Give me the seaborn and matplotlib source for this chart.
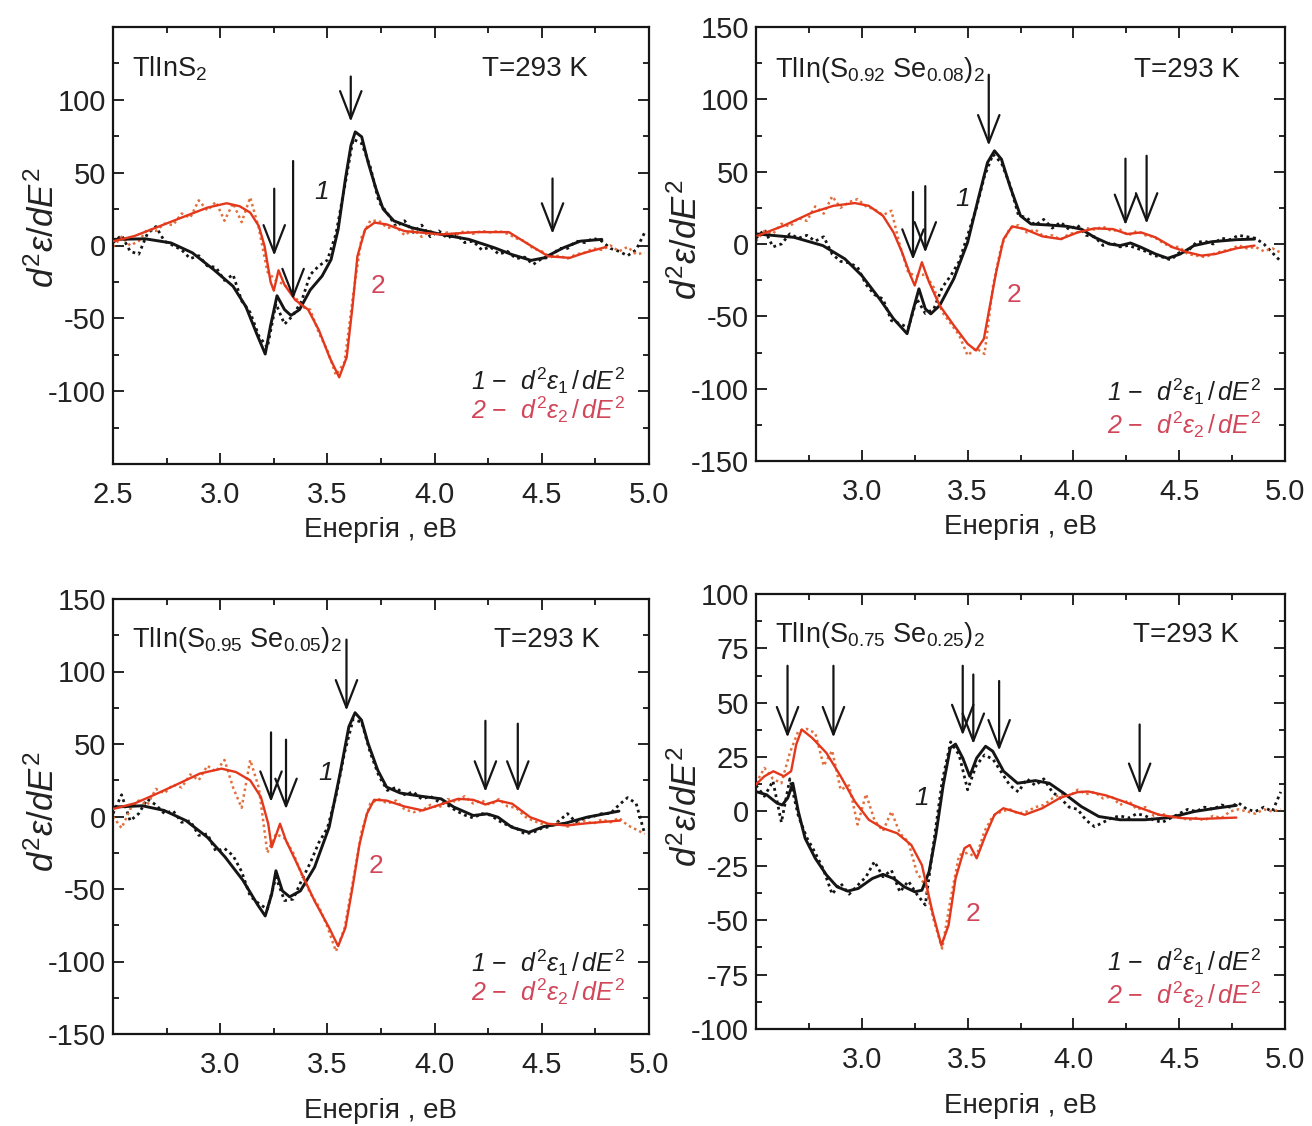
import numpy as np
import matplotlib
matplotlib.use("Agg")
import matplotlib.pyplot as plt
import seaborn as sns
from matplotlib.ticker import MultipleLocator, FuncFormatter

# ---------------- data ----------------
# experimental grid (eV)
E_exp = np.round(np.arange(2.50, 5.0001, 0.04), 2)

# Panel 1: TlInS2
p1_fit1_E = [2.503, 2.65, 2.77, 2.87, 2.97, 3.06, 3.12, 3.17, 3.21, 3.235, 3.265, 3.30, 3.33, 3.37, 3.42, 3.475,
             3.517, 3.55, 3.584, 3.61, 3.63, 3.66, 3.69, 3.727, 3.76, 3.81, 3.894, 4.03, 4.16, 4.28, 4.36, 4.45,
             4.51, 4.60, 4.68, 4.78]
p1_fit1_V = [4.2, 4.6, 1.8, -5, -16.6, -28, -42, -60.5, -74.5, -55, -34.5, -44, -48, -44, -30.5, -21,
             -9.7, 11, 45.7, 68.8, 78, 74.6, 57, 38.8, 25, 16.9, 12.2, 7.6, 4.2, -1.6, -6.2, -10.2,
             -8.5, -1.6, 3, 4.2]
p1_fit2_E = [2.503, 2.6, 2.72, 2.84, 2.94, 3.03, 3.09, 3.14, 3.18, 3.207, 3.235, 3.25, 3.272, 3.30, 3.35,
             3.41, 3.46, 3.51, 3.555, 3.59, 3.617, 3.64, 3.676, 3.72, 3.776, 3.86, 4.03, 4.195, 4.346, 4.447,
             4.53, 4.63, 4.70, 4.80]
p1_fit2_V = [3, 6.5, 13.4, 20.3, 26, 29, 27, 22.6, 13.4, -0.5, -25, -31, -17, -27, -37.4,
             -44, -58, -76.7, -90.5, -76.7, -42, -7.4, 11, 15.7, 14.5, 9.9, 7.6, 9.2, 9.2, 0,
             -7.4, -8.5, -5, -1]
p1_exp1 = [2, 7, -4, -6, 8, 13, 3, 0, -3, -9, -7, -14, -15, -24, -20, -38, -46, -62, -70, -40, -54, -48,
           -38, -20, -14, -10, 8, 40, 73, 70, 54, 30, 22, 13, 17, 9, 14, 6, 10, 5, 8, 2, 3, -3, -1, -6,
           -4, -9, -8, -13, -9, -8, -2, -2, 3, 2, 5, 3, -2, -4, -7, -3, 9]
p1_exp2 = [-1, 6, 0, 3, 11, 10, 15, 14, 22, 19, 31, 24, 30, 17, 29, 16, 33, 12, -18, -24, -27, -33, -42,
           -44, -60, -72, -89, -80, -34, 6, 17, 17, 12, 13, 7, 11, 6, 10, 7, 9, 7, 10, 8, 10, 9, 10, 8,
           5, 3, -2, -4, -8, -7, -9, -6, -5, -2, -3, 0, -4, -1, -6, -5]
p1_arrow_E = [3.252, 3.34, 3.609, 4.55]
p1_arrow_top = [39, 58, 116, 46]
p1_arrow_tip = [-7, -37, 85, 8]

# Panel 2: TlIn(S0.92Se0.08)2
p2_fit1_E = [2.507, 2.68, 2.816, 2.92, 3.0, 3.084, 3.15, 3.214, 3.24, 3.27, 3.30, 3.326, 3.368, 3.435,
             3.5, 3.55, 3.594, 3.627, 3.66, 3.70, 3.75, 3.80, 3.886, 3.97, 4.037, 4.10, 4.17, 4.22, 4.27,
             4.32, 4.388, 4.446, 4.505, 4.57, 4.655, 4.77, 4.856]
p2_fit1_V = [6.9, 4.6, -1.1, -10.3, -21.8, -37.9, -51.7, -62, -47, -31, -44.8, -48.3, -42.5, -24,
             1.1, 31, 56.3, 64.4, 58.6, 40, 19.5, 13.8, 13.1, 12.2, 10.3, 4.6, 0, -1.1, 0.7,
             -2.3, -6.9, -9.9, -6.9, -1.1, 1.6, 3, 3.4]
p2_fit2_E = [2.507, 2.63, 2.766, 2.866, 2.967, 3.033, 3.1, 3.15, 3.19, 3.23, 3.25, 3.284, 3.318, 3.368,
             3.435, 3.5, 3.54, 3.577, 3.6, 3.635, 3.67, 3.71, 3.77, 3.853, 3.94, 4.02, 4.1, 4.187,
             4.254, 4.32, 4.388, 4.47, 4.54, 4.605, 4.672, 4.77, 4.856]
p2_fit2_V = [5.7, 12.6, 21.8, 26.4, 28.3, 26.4, 19.5, 8, -5.7, -21.8, -28.7, -12.6, -26.4, -42.5,
             -56.3, -69, -73.6, -65.5, -47, -19.5, 3.4, 12.2, 10.3, 5.3, 3.4, 8, 10.8, 10.3,
             6.9, 8, 4.6, -2.3, -5.7, -8, -6.9, -3, -1.1]
p2_exp1 = [4, 10, -2, 0, 7, 4, 6, 2, 5, -7, -12, -13, -16, -28, -35, -38, -53, -55, -58, -38, -48, -45,
           -30, -22, -12, 6, 24, 47, 62, 56, 41, 20, 18, 13, 17, 11, 15, 10, 13, 6, 5, -1, 1, -2, -1, -3,
           -5, -8, -9, -11, -6, -5, 1, 2, 0, 4, 3, 6, 5, 4, 0, -6, -12]
p2_exp2 = [2, 9, 7, 14, 12, 18, 16, 26, 21, 33, 25, 29, 31, 26, 24, 20, 23, -1, -20, -22, -21, -30, -47,
           -55, -63, -77, -72, -76, -29, -1, 11, 13, 8, 10, 5, 6, 3, 7, 8, 11, 10, 12, 9, 10, 6, 9, 6,
           5, 1, -2, -2, -7, -8, -9, -7, -5, -4, -1, -3, -2, -5, -3, -6]
p2_arrow_E = [3.242, 3.30, 3.60, 4.246, 4.346]
p2_arrow_top = [36, 40, 117, 59, 61]
p2_arrow_tip = [-11, -6, 68, 13, 14]

# Panel 3: TlIn(S0.95Se0.05)2
p3_fit1_E = [2.503, 2.637, 2.738, 2.84, 2.94, 3.023, 3.106, 3.173, 3.21, 3.24, 3.26, 3.29, 3.324, 3.374,
             3.44, 3.508, 3.559, 3.60, 3.629, 3.659, 3.69, 3.735, 3.776, 3.84, 3.94, 4.03, 4.09, 4.18,
             4.245, 4.296, 4.36, 4.44, 4.51, 4.61, 4.71, 4.86]
p3_fit1_V = [6.5, 7.4, 4.2, -2.8, -14.3, -28, -44, -60.5, -68.6, -53.6, -37.4, -51.3, -55.4, -51.3,
             -35, -7.4, 29.6, 61.9, 71.6, 66.5, 50.3, 31.9, 20.3, 16.2, 13.9, 12.2, 6.5, 0.7,
             1.8, -0.5, -7.4, -10.9, -6.9, -4.6, -0.5, 3.7]
p3_fit2_E = [2.503, 2.604, 2.704, 2.805, 2.905, 3.006, 3.073, 3.14, 3.19, 3.224, 3.24, 3.257, 3.279,
             3.307, 3.374, 3.44, 3.508, 3.55, 3.584, 3.617, 3.65, 3.684, 3.718, 3.776, 3.86, 3.944,
             4.028, 4.11, 4.18, 4.237, 4.296, 4.362, 4.446, 4.53, 4.613, 4.714, 4.865]
p3_fit2_V = [5.3, 9.2, 15.7, 22.6, 29.6, 33, 30.7, 24.9, 13.4, -5, -21.2, -14.3, -5,
             -16.6, -37.4, -58.2, -76.7, -89.4, -76.7, -49, -19, 1.8, 11.5, 11, 6.9, 4.2,
             8.3, 12.2, 11.5, 8.3, 11, 8.8, -0.5, -5, -6.2, -4.6, -2.8]
p3_exp1 = [2, 15, -3, 2, 12, 8, 2, 4, -4, -3, -13, -12, -24, -22, -27, -38, -55, -60, -64, -42, -58,
           -57, -44, -32, -18, -8, 14, 44, 67, 65, 44, 28, 18, 20, 15, 17, 12, 14, 10, 8, 4, 1, -1, 2,
           1, -3, -6, -8, -12, -11, -8, -7, -3, 2, -4, -1, 0, 2, 2, 8, 13, 9, -12]
p3_exp2 = [0, -8, 5, 11, 8, 19, 16, 22, 20, 29, 25, 35, 31, 39, 20, 6, 39, 20, -25, -12, -15, -25, -40,
           -53, -62, -76, -93, -77, -44, -10, 9, 12, 9, 11, 5, 3, 4, 8, 6, 12, 10, 14, 9, 11, 8, 12, 7,
           6, 0, -3, -5, -7, -4, -7, -5, -3, -5, -2, -4, -1, -6, -9, -12]
p3_arrow_E = [3.237, 3.307, 3.589, 4.237, 4.388]
p3_arrow_top = [58, 53, 122, 66, 64]
p3_arrow_tip = [10, 5, 73, 17, 17]

# Panel 4: TlIn(S0.75Se0.25)2
p4_fit1_E = [2.498, 2.55, 2.60, 2.624, 2.65, 2.674, 2.70, 2.732, 2.78, 2.833, 2.883, 2.933, 2.983, 3.05,
             3.1, 3.15, 3.2, 3.25, 3.284, 3.318, 3.35, 3.385, 3.418, 3.443, 3.477, 3.51, 3.543, 3.585,
             3.619, 3.67, 3.736, 3.82, 3.886, 3.953, 4.037, 4.12, 4.22, 4.338, 4.455, 4.572, 4.672, 4.77]
p4_fit1_V = [9.2, 7.7, 3.8, 3, 6.2, 13, 0, -12.3, -21.5, -29.2, -34.6, -36.6, -35.4, -30.8,
             -28.9, -30.8, -34.6, -36.9, -36.2, -27.7, -10.8, 12.3, 29.2, 31, 24.6, 16.2, 24.6, 30,
             27.7, 18.5, 13, 14.2, 13, 8.5, 2.3, -2.3, -3.8, -3.8, -2.8, 0, 1.5, 2.8]
p4_fit2_E = [2.498, 2.54, 2.582, 2.632, 2.666, 2.69, 2.716, 2.766, 2.833, 2.9, 2.967, 3.033, 3.1, 3.167,
             3.234, 3.284, 3.334, 3.376, 3.41, 3.443, 3.485, 3.51, 3.543, 3.585, 3.627, 3.669, 3.72,
             3.77, 3.853, 3.936, 4.02, 4.07, 4.154, 4.237, 4.32, 4.405, 4.505, 4.605, 4.77]
p4_fit2_V = [12.3, 16.2, 18.5, 16.2, 18.5, 30.8, 37.7, 33.8, 26.9, 16.2, 4.6, -3.8, -7.7, -10,
             -15.4, -24.6, -46.2, -61.5, -52.3, -30.8, -16.9, -15.4, -21.5, -10.8, -1.5, 1.5, 0,
             -1.5, 1.5, 6.2, 8.9, 9.2, 7.4, 4.6, 1.5, -1.5, -3, -3.4, -2.8]
p4_exp1 = [12, 7, 14, -5, 15, -2, -12, -19, -27, -38, -33, -38, -34, -30, -23, -30, -27, -37, -32, -38,
           -43, -14, 14, 32, 26, 10, 21, 26, 24, 18, 12, 9, 15, 12, 15, 9, 6, 2, 1, -4, -7, -5, -3, -2,
           -3, -1, -2, -4, -5, -3, -1, 1, 0, 2, 1, 3, 2, 4, 1, 0, 2, 0, 9]
p4_exp2 = [13, 20, 15, 13, 27, 37, 38, 36, 21, 28, 10, 12, -6, 8, -4, -9, 0, -10, -14, -28, -34, -50,
           -63, -40, -20, -19, -21, -9, -2, 0, 1, -1, 0, 2, 3, 6, 8, 7, 10, 8, 9, 6, 7, 3, 5, 1, 2, -2,
           -1, -3, -2, -4, -3, -4, -2, -3, 0, 1, 0, -1, 1, 0, 1]
p4_arrow_E = [2.649, 2.866, 3.477, 3.527, 3.649, 4.313]
p4_arrow_top = [67, 67, 67, 63, 60, 40]
p4_arrow_tip = [34, 34, 35, 31, 28, 8]

titles = [r"TlInS$_{2}$",
          r"TlIn(S$_{0.92}$ Se$_{0.08}$)$_{2}$",
          r"TlIn(S$_{0.95}$ Se$_{0.05}$)$_{2}$",
          r"TlIn(S$_{0.75}$ Se$_{0.25}$)$_{2}$"]
temp_label = "T=293 K"
x_label = "Енергія , eB"
y_label = r"$d^{2}\varepsilon/dE^{2}$"
legend1 = r"1 $-$  $d^{2}\varepsilon_{1}\,/\,dE^{2}$"
legend2 = r"2 $-$  $d^{2}\varepsilon_{2}\,/\,dE^{2}$"

# ---------------- style ----------------
sns.set_theme(style="ticks")
plt.rcParams["font.family"] = ["Liberation Sans", "DejaVu Sans"]
plt.rcParams["mathtext.fontset"] = "custom"
plt.rcParams["mathtext.rm"] = "Liberation Sans"
plt.rcParams["mathtext.it"] = "Liberation Sans:italic"
plt.rcParams["mathtext.bf"] = "Liberation Sans:bold"

BLACK = "#151515"
RED = "#e4381c"
RED_DOT = "#e2703e"
LABEL_RED = "#d2465a"
TXT = "#1e1e1e"

fig = plt.figure(figsize=(13.12, 11.26), dpi=100)

# axes rectangles (figure fractions)
rects = [
    [113 / 1312, 1 - 464 / 1126, 536 / 1312, 437 / 1126],
    [756 / 1312, 1 - 461 / 1126, 529 / 1312, 434 / 1126],
    [113 / 1312, 1 - 1034 / 1126, 536 / 1312, 435 / 1126],
    [756 / 1312, 1 - 1029 / 1126, 529 / 1312, 435 / 1126],
]

panels = [
    dict(f1E=p1_fit1_E, f1V=p1_fit1_V, f2E=p1_fit2_E, f2V=p1_fit2_V, x1=p1_exp1, x2=p1_exp2,
         aE=p1_arrow_E, aT=p1_arrow_top, aP=p1_arrow_tip, ylim=(-150, 150), ymaj=50, ymin=25,
         ylab_lim=100, show25=True, lab1=(3.475, 37), lab2=(3.735, -28), leg=(-93, -113),
         title_y=121, temp_x=4.715, ylab_y=0.54, xpad=6),
    dict(f1E=p2_fit1_E, f1V=p2_fit1_V, f2E=p2_fit2_E, f2V=p2_fit2_V, x1=p2_exp1, x2=p2_exp2,
         aE=p2_arrow_E, aT=p2_arrow_top, aP=p2_arrow_tip, ylim=(-150, 150), ymaj=50, ymin=25,
         ylab_lim=150, show25=False, lab1=(3.477, 31), lab2=(3.72, -35), leg=(-102, -125),
         title_y=120, temp_x=4.787, ylab_y=0.51, xpad=6),
    dict(f1E=p3_fit1_E, f1V=p3_fit1_V, f2E=p3_fit2_E, f2V=p3_fit2_V, x1=p3_exp1, x2=p3_exp2,
         aE=p3_arrow_E, aT=p3_arrow_top, aP=p3_arrow_tip, ylim=(-150, 150), ymaj=50, ymin=25,
         ylab_lim=150, show25=False, lab1=(3.49, 30), lab2=(3.726, -34), leg=(-101, -121),
         title_y=122, temp_x=4.77, ylab_y=0.51, xpad=14),
    dict(f1E=p4_fit1_E, f1V=p4_fit1_V, f2E=p4_fit2_E, f2V=p4_fit2_V, x1=p4_exp1, x2=p4_exp2,
         aE=p4_arrow_E, aT=p4_arrow_top, aP=p4_arrow_tip, ylim=(-100, 100), ymaj=25, ymin=12.5,
         ylab_lim=100, show25=False, lab1=(3.284, 6), lab2=(3.527, -47), leg=(-69, -84),
         title_y=81, temp_x=4.78, ylab_y=0.51, xpad=14),
]

for rect, title, p in zip(rects, titles, panels):
    ax = fig.add_axes(rect)
    # experimental (dotted)
    sns.lineplot(x=E_exp, y=p["x1"], ax=ax, color=BLACK, lw=2.0, linestyle=(0, (1, 1.3)),
                 estimator=None, sort=False, zorder=2)
    sns.lineplot(x=E_exp, y=p["x2"], ax=ax, color=RED_DOT, lw=1.8, linestyle=(0, (1, 1.3)),
                 estimator=None, sort=False, zorder=2)
    # fits (solid)
    sns.lineplot(x=p["f1E"], y=p["f1V"], ax=ax, color=BLACK, lw=2.1, estimator=None, sort=False, zorder=3)
    sns.lineplot(x=p["f2E"], y=p["f2V"], ax=ax, color=RED, lw=1.7, estimator=None, sort=False, zorder=4)

    # arrows
    for e, t, b in zip(p["aE"], p["aT"], p["aP"]):
        ax.annotate("", xy=(e, b), xytext=(e, t),
                    arrowprops=dict(arrowstyle="->,head_length=0.9,head_width=0.35",
                                    lw=1.6, color=BLACK, mutation_scale=22, shrinkA=0, shrinkB=0),
                    zorder=6)

    ax.set_xlim(2.5, 5.0)
    ax.set_ylim(*p["ylim"])
    ax.xaxis.set_major_locator(MultipleLocator(0.5))
    ax.xaxis.set_minor_locator(MultipleLocator(0.25))
    ax.yaxis.set_major_locator(MultipleLocator(p["ymaj"]))
    ax.yaxis.set_minor_locator(MultipleLocator(p["ymin"]))

    show25 = p["show25"]
    ax.xaxis.set_major_formatter(FuncFormatter(
        lambda v, pos, s=show25: "" if (abs(v - 2.5) < 1e-6 and not s) else f"{v:.1f}"))
    lim = p["ylab_lim"]
    ax.yaxis.set_major_formatter(FuncFormatter(
        lambda v, pos, L=lim: "" if abs(v) > L + 1e-6 else f"{v:.0f}"))

    ax.tick_params(which="both", direction="in", top=True, right=True, width=1.3, color=BLACK)
    ax.tick_params(which="major", length=8, labelsize=21, labelcolor="#222222")
    ax.tick_params(axis="x", which="major", pad=12)
    ax.tick_params(axis="y", which="major", pad=5)
    ax.tick_params(which="minor", length=4.5)
    for sp in ax.spines.values():
        sp.set_linewidth(1.6)
        sp.set_color(BLACK)

    ax.set_xlabel(x_label, fontsize=20, color="#222222", labelpad=p["xpad"])
    ax.set_ylabel(y_label, fontsize=25, color="#222222")
    ax.yaxis.set_label_coords(-0.098, p["ylab_y"])

    # texts
    ax.text(2.59, p["title_y"], title, fontsize=19.5, color=TXT, va="center", ha="left")
    ax.text(p["temp_x"], p["title_y"], temp_label, fontsize=20, color=TXT, va="center", ha="right")
    ax.text(*p["lab1"], "1", fontsize=19, style="italic", color=TXT, ha="center", va="center")
    ax.text(*p["lab2"], "2", fontsize=19, color=LABEL_RED, ha="center", va="center")
    ax.text(4.888, p["leg"][0], legend1, fontsize=18, color=TXT, ha="right", va="center",
            style="italic")
    ax.text(4.888, p["leg"][1], legend2, fontsize=18, color=LABEL_RED, ha="right", va="center",
            style="italic")

fig.savefig("out.png", dpi=100)
